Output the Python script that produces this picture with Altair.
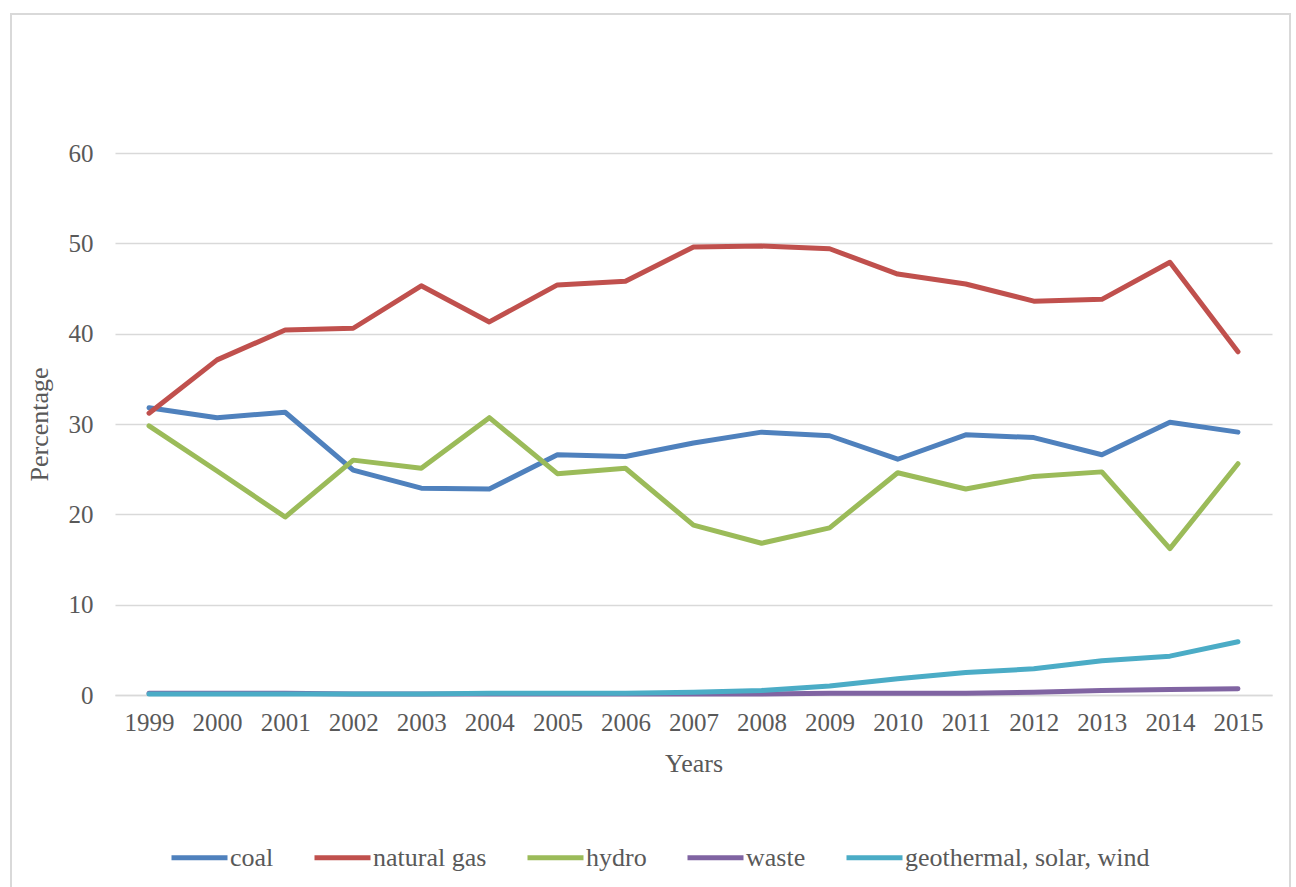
import altair as alt
import pandas as pd

years = [str(y) for y in range(1999, 2016)]
series_names = ["coal", "natural gas", "hydro", "waste", "geothermal, solar, wind"]
colors = ["#4f81bd", "#c0504d", "#9bbb59", "#8064a2", "#4bacc6"]

coal = [31.8, 30.7, 31.3, 24.9, 22.9, 22.8, 26.6, 26.4, 27.9, 29.1, 28.7, 26.1, 28.8, 28.5, 26.6, 30.2, 29.1]
natural_gas = [31.2, 37.1, 40.4, 40.6, 45.3, 41.3, 45.4, 45.8, 49.6, 49.7, 49.4, 46.6, 45.5, 43.6, 43.8, 47.9, 38.0]
hydro = [29.8, 24.8, 19.7, 26.0, 25.1, 30.7, 24.5, 25.1, 18.8, 16.8, 18.5, 24.6, 22.8, 24.2, 24.7, 16.2, 25.6]
waste = [0.2, 0.2, 0.2, 0.1, 0.1, 0.1, 0.1, 0.1, 0.1, 0.1, 0.2, 0.2, 0.2, 0.3, 0.5, 0.6, 0.7]
geo_solar_wind = [0.1, 0.1, 0.1, 0.1, 0.1, 0.2, 0.2, 0.2, 0.3, 0.5, 1.0, 1.8, 2.5, 2.9, 3.8, 4.3, 5.9]

series_values = [coal, natural_gas, hydro, waste, geo_solar_wind]

rows = []
for name, vals in zip(series_names, series_values):
    for y, v in zip(years, vals):
        rows.append({"Year": y, "Source": name, "Percentage": v})
df = pd.DataFrame(rows)

FONT = "Liberation Serif"
TXT = "#595959"

lines = alt.Chart(df).mark_line(strokeWidth=5, strokeCap="round", strokeJoin="round").encode(
    x=alt.X("Year:O", sort=years, scale=alt.Scale(type="point", padding=0.5),
            axis=alt.Axis(title="Years", labelAngle=0, ticks=False, grid=False,
                          domainColor="#d9d9d9", domainWidth=1.5,
                          labelPadding=15, titlePadding=15)),
    y=alt.Y("Percentage:Q", scale=alt.Scale(domain=[0, 60], nice=False),
            axis=alt.Axis(title="Percentage", values=[0, 10, 20, 30, 40, 50, 60],
                          ticks=False, domain=False, labelPadding=22, titlePadding=16)),
    color=alt.Color("Source:N", sort=series_names,
                    scale=alt.Scale(domain=series_names, range=colors),
                    legend=alt.Legend(title=None, orient="none", direction="horizontal",
                                      legendX=54, legendY=674,
                                      symbolType="stroke", symbolSize=3136, symbolStrokeWidth=5,
                                      labelOffset=0, columnPadding=30, labelLimit=500,
                                      labelFontSize=26, labelFont=FONT, labelColor=TXT)),
    order=alt.Order("Year:O"),
)

border = alt.Chart(alt.Data(values=[{}])).mark_rect(
    fill="transparent", stroke="#d9d9d9", strokeWidth=2
).encode(
    x=alt.value(-104), x2=alt.value(1175), y=alt.value(-139), y2=alt.value(760)
)

chart = alt.layer(border, lines).properties(
    width=1157, height=542,
    autosize=alt.AutoSizeParams(type="none"),
    padding={"left": 115, "top": 153, "right": 24, "bottom": 192},
    background="white",
).configure_view(stroke=None).configure_axis(
    labelFont=FONT, labelFontSize=25, labelColor=TXT,
    titleFont=FONT, titleFontSize=26, titleColor=TXT, titleFontWeight="normal",
    gridColor="#d9d9d9", gridWidth=1.5,
)

chart.save("out.html", embed_options={"renderer": "svg", "actions": False})
